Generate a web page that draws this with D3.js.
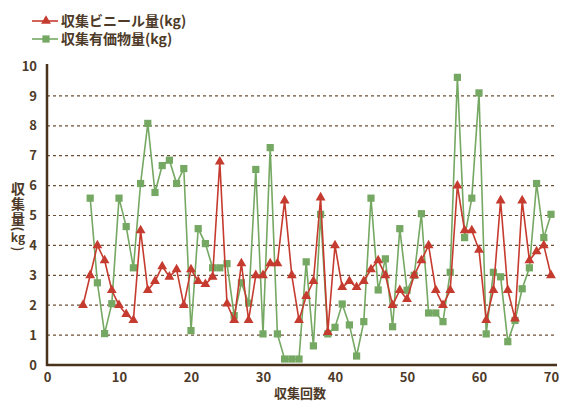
<!DOCTYPE html>
<html><head><meta charset="utf-8">
<script src="https://cdn.jsdelivr.net/npm/d3@7"></script>
<style>
body{margin:0;background:#fff;}
text{font-family:"Noto Sans CJK JP","Noto Sans",sans-serif;font-weight:bold;fill:#4d3a28;}
</style></head>
<body><svg id="c" width="565" height="404"></svg>
<script>
const vinylX = d3.range(5, 71);
const vinylValues = [2.0,3.0,4.0,3.5,2.5,2.0,1.7,1.5,4.5,2.5,2.8,3.3,
  2.95,3.2,2.0,3.2,2.8,2.7,2.95,6.8,2.05,1.5,3.4,1.5,3.0,3.0,3.4,3.4,5.5,3.0,1.5,2.3,2.8,5.6,1.1,4.0,
  2.6,2.8,2.6,2.8,3.2,3.5,3.0,2.0,2.5,2.2,3.0,3.5,4.0,2.5,2.0,2.5,6.0,4.5,4.5,3.85,1.5,2.5,5.5,2.5,1.55,5.5,3.5,3.8,4.0,3.0];
const valuableX = d3.range(6, 71);
const valuableValues = [5.58,2.75,1.05,2.05,5.58,4.63,3.25,6.07,8.08,5.77,6.67,6.85,6.07,6.57,1.15,4.56,4.06,3.25,3.25,3.39,
  1.65,2.75,2.07,6.54,1.04,7.27,1.04,0.2,0.2,0.2,3.45,0.64,5.04,1.04,1.26,2.04,1.34,0.3,1.45,5.58,
  2.51,3.55,1.28,4.56,2.5,3.0,5.06,1.74,1.74,1.45,3.1,9.62,4.26,5.58,9.1,1.04,3.1,2.95,0.78,1.49,
  2.55,3.25,6.07,4.26,5.04];
const xTicks = [0,10,20,30,40,50,60,70];
const yTicks = [0,1,2,3,4,5,6,7,8,9,10];
const seriesNames = ["収集ビニール量(kg)","収集有価物量(kg)"];
const xTitle = "収集回数";
const yTitleMain = "収集量";
const yTitleUnit = "kg";

const RED="#c63b2f", GREEN="#75a862", AX="#4a331c";
const svg = d3.select("#c");
const x = d3.scaleLinear().domain([0,70]).range([47,551]);
const y = d3.scaleLinear().domain([0,10]).range([365,66]);

// gridlines
svg.append("g").selectAll("line").data(yTicks.filter(d=>d>0&&d<10)).join("line")
  .attr("x1",47).attr("x2",557).attr("y1",d=>y(d)).attr("y2",d=>y(d))
  .attr("stroke","#6b5037").attr("stroke-width",1.2).attr("stroke-dasharray","3,3");

// axes
const yAxis = svg.append("g").attr("transform","translate(47,0)")
  .call(d3.axisLeft(y).tickValues(yTicks).tickSize(0).tickPadding(10).tickFormat(d3.format("d")));
const xAxis = svg.append("g").attr("transform","translate(0,365)")
  .call(d3.axisBottom(x).tickValues(xTicks).tickSize(0).tickPadding(8).tickFormat(d3.format("d")));
[yAxis,xAxis].forEach(g=>{
  g.select(".domain").remove();
  g.selectAll("text").attr("font-size",13).attr("font-family","'Noto Sans CJK JP',sans-serif").attr("font-weight","bold").attr("fill","#4d3a28");
});
svg.append("line").attr("x1",47).attr("x2",47).attr("y1",y(10)-2).attr("y2",366).attr("stroke",AX).attr("stroke-width",2.5);
svg.append("line").attr("x1",46).attr("x2",557).attr("y1",365).attr("y2",365).attr("stroke",AX).attr("stroke-width",2.5);

// series
const line = d3.line().x(d=>x(d[0])).y(d=>y(d[1]));
const gData = valuableX.map((v,i)=>[v,valuableValues[i]]);
const rData = vinylX.map((v,i)=>[v,vinylValues[i]]);
svg.append("path").datum(gData).attr("d",line).attr("fill","none").attr("stroke",GREEN).attr("stroke-width",1.6);
svg.append("g").selectAll("path").data(gData).join("path")
  .attr("d",d3.symbol(d3.symbolSquare,52)).attr("transform",d=>`translate(${x(d[0])},${y(d[1])})`).attr("fill",GREEN);
svg.append("path").datum(rData).attr("d",line).attr("fill","none").attr("stroke",RED).attr("stroke-width",1.6);
svg.append("g").selectAll("path").data(rData).join("path")
  .attr("d",d3.symbol(d3.symbolTriangle,42)).attr("transform",d=>`translate(${x(d[0])},${y(d[1])})`).attr("fill",RED);

// legend
const leg = svg.append("g");
[[RED,d3.symbolTriangle,42,21],[GREEN,d3.symbolSquare,52,39]].forEach((s,i)=>{
  leg.append("line").attr("x1",32).attr("x2",58).attr("y1",s[3]).attr("y2",s[3]).attr("stroke",s[0]).attr("stroke-width",1.6);
  leg.append("path").attr("d",d3.symbol(s[1],s[2])).attr("transform",`translate(46,${s[3]})`).attr("fill",s[0]);
  leg.append("text").attr("x",61).attr("y",s[3]).attr("dy","0.36em").attr("font-size",14).text(seriesNames[i]);
});

// axis titles
svg.append("text").attr("x",300).attr("y",398).attr("text-anchor","middle").attr("font-size",13).text(xTitle);
const yt = svg.append("g").attr("transform","translate(18,0)");
yt.append("text").attr("x",0).attr("y",182).attr("font-size",14)
  .style("writing-mode","vertical-rl").attr("letter-spacing",1).text(yTitleMain);
yt.append("text").attr("transform","translate(0,229) rotate(90)").attr("text-anchor","middle").attr("dy","0.36em").attr("font-size",13).text("(");
yt.append("text").attr("x",0).attr("y",238).attr("dy","0.33em").attr("text-anchor","middle").attr("font-size",12).text(yTitleUnit);
yt.append("text").attr("transform","translate(0,249) rotate(90)").attr("text-anchor","middle").attr("dy","0.36em").attr("font-size",13).text(")");
</script></body></html>
